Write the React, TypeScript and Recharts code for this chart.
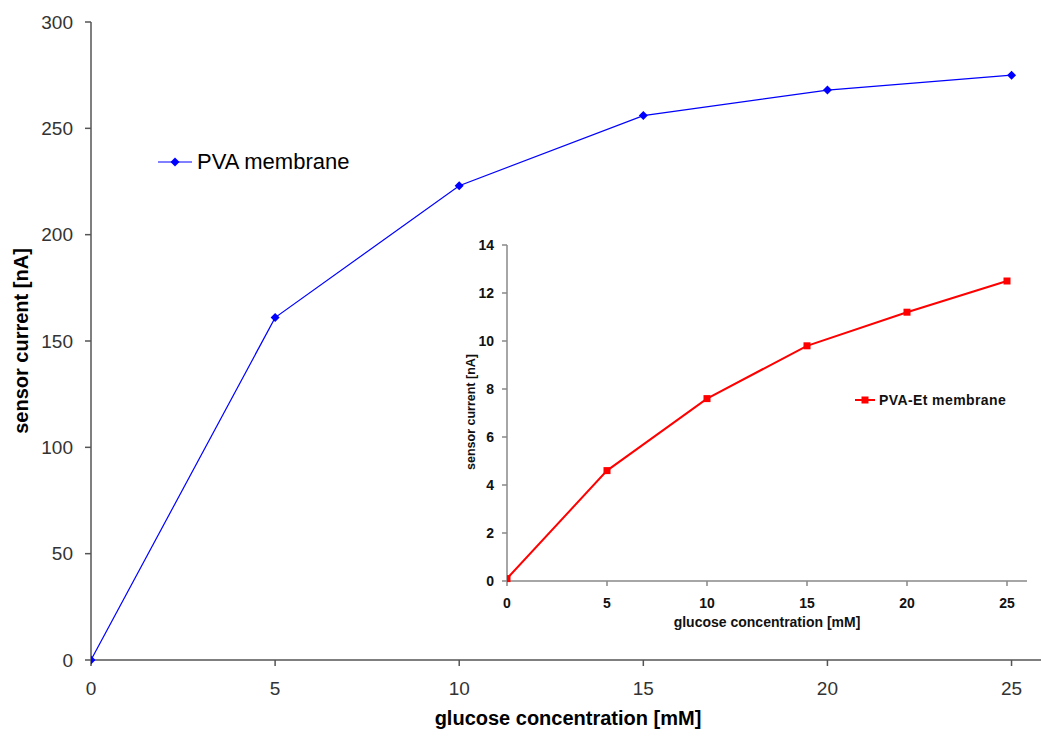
import React from "react";
import { LineChart, Line, XAxis, YAxis, Legend } from "recharts";

const concentrations = [0, 5, 10, 15, 20, 25];
const pvaCurrent = [0, 161, 223, 256, 268, 275];
const pvaEtCurrent = [0.1, 4.6, 7.6, 9.8, 11.2, 12.5];
const mainXTicks = [0, 5, 10, 15, 20, 25];
const mainYTicks = [0, 50, 100, 150, 200, 250, 300];
const insetYTicks = [0, 2, 4, 6, 8, 10, 12, 14];

const mainData = concentrations.map((c, i) => ({ c, v: pvaCurrent[i] }));
const insetData = concentrations.map((c, i) => ({ c, v: pvaEtCurrent[i] }));

const FONT = "'Liberation Sans', Arial, sans-serif";

const Diamond = (props: any) => {
  const { cx, cy } = props;
  if (cx == null || cy == null) return null;
  const r = 4.5;
  return (
    <polygon
      key={`d-${cx}-${cy}`}
      points={`${cx},${cy - r} ${cx + r},${cy} ${cx},${cy + r} ${cx - r},${cy}`}
      fill="#0000ff"
    />
  );
};

const Square = (props: any) => {
  const { cx, cy } = props;
  if (cx == null || cy == null) return null;
  const r = 3.5;
  return <rect key={`s-${cx}-${cy}`} x={cx - r} y={cy - r} width={2 * r} height={2 * r} fill="#ff0000" />;
};

const MainLegend = (props: any) => {
  const item = props.payload && props.payload[0];
  if (!item) return null;
  return (
    <div style={{ display: "flex", alignItems: "center", fontFamily: FONT, fontSize: 22, color: "#000" }}>
      <svg width={34} height={12} style={{ marginRight: 5 }}>
        <line x1={0} y1={6} x2={34} y2={6} stroke="#0000ff" strokeWidth={1.2} />
        <polygon points="17,1.5 21.5,6 17,10.5 12.5,6" fill="#0000ff" />
      </svg>
      <span>{item.value}</span>
    </div>
  );
};

const InsetLegend = (props: any) => {
  const item = props.payload && props.payload[0];
  if (!item) return null;
  return (
    <div
      style={{
        display: "flex",
        alignItems: "center",
        fontFamily: FONT,
        fontSize: 14,
        fontWeight: "bold",
        letterSpacing: 0.4,
        color: "#111",
      }}
    >
      <svg width={20} height={10} style={{ marginRight: 4 }}>
        <line x1={0} y1={5} x2={20} y2={5} stroke="#ff0000" strokeWidth={2} />
        <rect x={6.5} y={1.5} width={7} height={7} fill="#ff0000" />
      </svg>
      <span>{item.value}</span>
    </div>
  );
};

export default function App() {
  return (
    <div style={{ position: "absolute", left: 0, top: 0, width: 1041, height: 740, background: "#fff" }}>
      <div style={{ position: "absolute", left: 0, top: 0 }}>
        <LineChart width={1041} height={740} data={mainData} margin={{ top: 22, right: 0, left: 0, bottom: 50 }}>
          <XAxis
            dataKey="c"
            type="number"
            domain={[0, 25.8]}
            ticks={mainXTicks}
            allowDataOverflow
            height={30}
            stroke="#555"
            strokeWidth={1.5}
            tickSize={6}
            tickMargin={16}
            tick={{ fill: "#333", fontSize: 19, fontFamily: FONT }}
            label={{
              content: () => (
                <text x={568} y={725} textAnchor="middle" fontFamily={FONT} fontSize={20} fontWeight="bold" fill="#000">
                  glucose concentration [mM]
                </text>
              ),
            }}
          />
          <YAxis
            type="number"
            domain={[0, 300]}
            ticks={mainYTicks}
            width={91}
            stroke="#555"
            strokeWidth={1.5}
            tickSize={6}
            tickMargin={12}
            tick={{ fill: "#333", fontSize: 19, fontFamily: FONT }}
            label={{
              content: () => (
                <text
                  x={28}
                  y={341}
                  transform="rotate(-90, 28, 341)"
                  textAnchor="middle"
                  fontFamily={FONT}
                  fontSize={20}
                  fontWeight="bold"
                  fill="#000"
                >
                  sensor current [nA]
                </text>
              ),
            }}
          />
          <Legend
            content={MainLegend}
            wrapperStyle={{ position: "absolute", left: 158, top: 149, width: 250, height: 0, overflow: "visible" }}
          />
          <Line
            name="PVA membrane"
            dataKey="v"
            stroke="#0000ff"
            strokeWidth={1.2}
            dot={Diamond}
            activeDot={false}
            isAnimationActive={false}
          />
        </LineChart>
      </div>
      <div style={{ position: "absolute", left: 440, top: 230 }}>
        <LineChart width={600} height={420} data={insetData} margin={{ top: 15, right: 13, left: 0, bottom: 44 }}>
          <XAxis
            dataKey="c"
            type="number"
            domain={[0, 26]}
            ticks={mainXTicks}
            allowDataOverflow
            height={25}
            stroke="#888"
            strokeWidth={1.5}
            tickSize={5}
            tickMargin={12}
            tick={{ fill: "#111", fontSize: 14, fontWeight: "bold", fontFamily: FONT }}
            label={{
              content: () => (
                <text x={327} y={397} textAnchor="middle" fontFamily={FONT} fontSize={14} fontWeight="bold" fill="#111">
                  glucose concentration [mM]
                </text>
              ),
            }}
          />
          <YAxis
            type="number"
            domain={[0, 14]}
            ticks={insetYTicks}
            width={67}
            stroke="#888"
            strokeWidth={1.5}
            tickSize={5}
            tickMargin={8}
            tick={{ fill: "#111", fontSize: 14, fontWeight: "bold", fontFamily: FONT }}
            label={{
              content: () => (
                <text
                  x={35}
                  y={182}
                  transform="rotate(-90, 35, 182)"
                  textAnchor="middle"
                  fontFamily={FONT}
                  fontSize={12.5}
                  fontWeight="bold"
                  fill="#111"
                >
                  sensor current [nA]
                </text>
              ),
            }}
          />
          <Legend
            content={InsetLegend}
            wrapperStyle={{ position: "absolute", left: 415, top: 162, width: 180, height: 0, overflow: "visible" }}
          />
          <Line
            name="PVA-Et membrane"
            dataKey="v"
            stroke="#ff0000"
            strokeWidth={2}
            dot={Square}
            activeDot={false}
            isAnimationActive={false}
          />
        </LineChart>
      </div>
    </div>
  );
}
